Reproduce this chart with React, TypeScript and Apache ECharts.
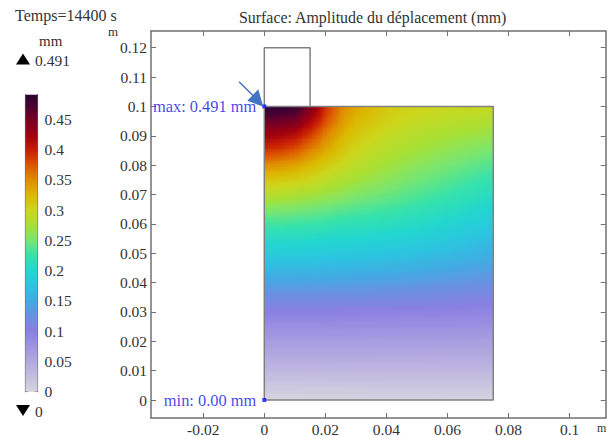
import React, { useEffect, useRef } from "react";
import * as echarts from "echarts";

const FONT = "'Liberation Serif', serif";
const TEXT = "#333333";
const BLUE = "#1212e6";

const xTicks = [-0.02, 0, 0.02, 0.04, 0.06, 0.08, 0.1];
const yTicks = [0, 0.01, 0.02, 0.03, 0.04, 0.05, 0.06, 0.07, 0.08, 0.09, 0.1, 0.11, 0.12];
const barTicks = [0, 0.05, 0.1, 0.15, 0.2, 0.25, 0.3, 0.35, 0.4, 0.45];

const colorStops: [number, string][] = [
  [0, "#d6d4df"], [0.05, "#b2a8df"], [0.1, "#8a80e2"], [0.125, "#6a90e2"], [0.15, "#41abe2"],
  [0.175, "#2cc4e0"], [0.2, "#22d6d0"], [0.225, "#36e2ac"], [0.25, "#78e672"], [0.275, "#a8e034"],
  [0.3, "#cdd61c"], [0.325, "#dcb800"], [0.35, "#e08c00"], [0.375, "#dc5400"], [0.4, "#c81c04"],
  [0.425, "#a00010"], [0.45, "#780024"], [0.47, "#4e0030"], [0.491, "#280030"],
];

const fieldX = [0, 0.005, 0.01, 0.015, 0.02, 0.025, 0.03, 0.04, 0.05, 0.06, 0.075];
const fieldY = [0.1, 0.095, 0.09, 0.085, 0.08, 0.075, 0.07, 0.065, 0.06, 0.055, 0.05, 0.045, 0.04, 0.035, 0.03, 0.025, 0.02, 0.015, 0.01, 0.005, 0];
const fieldValues = [
  [0.491, 0.49, 0.485, 0.45, 0.395, 0.355, 0.335, 0.31, 0.302, 0.298, 0.295],
  [0.458, 0.456, 0.45, 0.42, 0.38, 0.345, 0.325, 0.305, 0.293, 0.287, 0.28],
  [0.425, 0.42, 0.41, 0.385, 0.355, 0.33, 0.312, 0.293, 0.282, 0.274, 0.265],
  [0.39, 0.385, 0.375, 0.355, 0.335, 0.315, 0.3, 0.283, 0.272, 0.262, 0.25],
  [0.35, 0.345, 0.338, 0.325, 0.31, 0.298, 0.287, 0.272, 0.26, 0.25, 0.235],
  [0.315, 0.312, 0.307, 0.3, 0.29, 0.28, 0.273, 0.26, 0.248, 0.238, 0.222],
  [0.285, 0.283, 0.279, 0.274, 0.268, 0.262, 0.255, 0.246, 0.236, 0.226, 0.21],
  [0.255, 0.254, 0.252, 0.248, 0.245, 0.24, 0.236, 0.23, 0.222, 0.213, 0.197],
  [0.23, 0.23, 0.228, 0.226, 0.224, 0.22, 0.218, 0.213, 0.207, 0.198, 0.183],
  [0.208, 0.208, 0.207, 0.205, 0.203, 0.201, 0.2, 0.196, 0.19, 0.183, 0.17],
  [0.187, 0.187, 0.186, 0.185, 0.184, 0.182, 0.18, 0.177, 0.172, 0.166, 0.155],
  [0.165, 0.165, 0.165, 0.164, 0.163, 0.162, 0.16, 0.158, 0.154, 0.149, 0.14],
  [0.143, 0.143, 0.143, 0.142, 0.142, 0.141, 0.14, 0.138, 0.135, 0.131, 0.125],
  [0.12, 0.12, 0.12, 0.12, 0.12, 0.119, 0.119, 0.117, 0.115, 0.112, 0.108],
  [0.099, 0.099, 0.099, 0.099, 0.099, 0.098, 0.098, 0.097, 0.096, 0.095, 0.092],
  [0.082, 0.082, 0.082, 0.082, 0.082, 0.081, 0.081, 0.081, 0.08, 0.08, 0.078],
  [0.065, 0.065, 0.065, 0.065, 0.065, 0.065, 0.065, 0.064, 0.064, 0.063, 0.062],
  [0.049, 0.049, 0.049, 0.049, 0.049, 0.049, 0.049, 0.049, 0.049, 0.048, 0.048],
  [0.032, 0.032, 0.032, 0.032, 0.032, 0.033, 0.033, 0.033, 0.033, 0.033, 0.033],
  [0.015, 0.015, 0.015, 0.016, 0.016, 0.016, 0.016, 0.017, 0.017, 0.017, 0.017],
  [0, 0, 0, 0, 0, 0, 0.001, 0.001, 0.001, 0.002, 0.002],
];

const domainOutline = [[0, 0], [0.075, 0], [0.075, 0.1], [0, 0.1], [0, 0]];
const blockOutline = [[0, 0.1], [0, 0.12], [0.015, 0.12], [0.015, 0.1]];
const maxPoint = [0, 0.1];
const minPoint = [0, 0];
const maxValue = 0.491;

function hex(c: string) {
  return [parseInt(c.slice(1, 3), 16), parseInt(c.slice(3, 5), 16), parseInt(c.slice(5, 7), 16)];
}
const stopRgb = colorStops.map(([v, c]) => [v, hex(c)] as [number, number[]]);
function colorOf(v: number) {
  for (let i = 1; i < stopRgb.length; i++) {
    if (v <= stopRgb[i][0]) {
      const [a, ca] = stopRgb[i - 1];
      const [b, cb] = stopRgb[i];
      const t = Math.max(0, (v - a) / (b - a));
      const m = ca.map((q, k) => Math.round(q + (cb[k] - q) * t));
      return `rgb(${m[0]},${m[1]},${m[2]})`;
    }
  }
  return colorStops[colorStops.length - 1][1];
}

const cells: number[][] = [];
for (let r = 0; r < fieldY.length - 1; r++) {
  for (let c = 0; c < fieldX.length - 1; c++) {
    cells.push([
      fieldX[c], fieldY[r], fieldX[c + 1], fieldY[r + 1],
      fieldValues[r][c], fieldValues[r][c + 1], fieldValues[r + 1][c], fieldValues[r + 1][c + 1],
    ]);
  }
}

function renderCell(_: any, api: any) {
  const p0 = api.coord([api.value(0), api.value(1)]);
  const p1 = api.coord([api.value(2), api.value(3)]);
  const v00 = api.value(4), v10 = api.value(5), v01 = api.value(6), v11 = api.value(7);
  const nx = Math.max(1, Math.ceil((p1[0] - p0[0]) / 2));
  const ny = Math.max(1, Math.ceil((p1[1] - p0[1]) / 2));
  const children: any[] = [];
  for (let j = 0; j < ny; j++) {
    const y0 = Math.round(p0[1] + ((p1[1] - p0[1]) * j) / ny);
    const y1 = Math.round(p0[1] + ((p1[1] - p0[1]) * (j + 1)) / ny);
    const ty = (j + 0.5) / ny;
    for (let i = 0; i < nx; i++) {
      const x0 = Math.round(p0[0] + ((p1[0] - p0[0]) * i) / nx);
      const x1 = Math.round(p0[0] + ((p1[0] - p0[0]) * (i + 1)) / nx);
      const tx = (i + 0.5) / nx;
      const v = (v00 * (1 - tx) + v10 * tx) * (1 - ty) + (v01 * (1 - tx) + v11 * tx) * ty;
      children.push({
        type: "rect",
        shape: { x: x0, y: y0, width: x1 - x0, height: y1 - y0 },
        style: { fill: colorOf(v) },
      });
    }
  }
  return { type: "group", silent: true, children };
}

function renderBar(_: any, api: any) {
  const a = api.coord([0, api.value(0)]);
  const b = api.coord([1, api.value(1)]);
  return {
    type: "rect",
    silent: true,
    shape: { x: a[0], y: b[1], width: b[0] - a[0], height: a[1] - b[1] },
    style: {
      fill: new echarts.graphic.LinearGradient(
        0, 1, 0, 0,
        colorStops.map(([v, c]) => ({ offset: v / maxValue, color: c })),
      ),
    },
  };
}

const axisLine = { show: true, onZero: false, lineStyle: { color: "#707070", width: 1.5 } };
const hiddenLabel = { show: false };

const option: any = {
  animation: false,
  backgroundColor: "#ffffff",
  textStyle: { fontFamily: FONT },
  grid: [
    { left: 151, top: 31, width: 454.7, height: 387, outerBoundsMode: "none" },
    { left: 25.5, top: 94.7, width: 12, height: 297, outerBoundsMode: "none" },
  ],
  xAxis: [
    {
      type: "value", gridIndex: 0, position: "bottom", min: -0.03711, max: 0.11182,
      splitLine: { show: false }, axisLine,
      axisTick: { inside: true, length: 5, customValues: xTicks, lineStyle: { color: "#707070" } },
      axisLabel: {
        customValues: xTicks, margin: 4, color: TEXT, fontFamily: FONT, fontSize: 15.5, lineHeight: 14,
        formatter: (v: number) => String(v),
      },
    },
    {
      type: "value", gridIndex: 0, position: "top", min: -0.03711, max: 0.11182,
      splitLine: { show: false }, axisLine,
      axisTick: { inside: true, length: 5, customValues: xTicks, lineStyle: { color: "#707070" } },
      axisLabel: hiddenLabel,
    },
    { type: "value", gridIndex: 1, min: 0, max: 1, show: false },
  ],
  yAxis: [
    {
      type: "value", gridIndex: 0, position: "left", min: -0.00613, max: 0.12568,
      splitLine: { show: false }, axisLine,
      axisTick: { inside: true, length: 5, customValues: yTicks, lineStyle: { color: "#707070" } },
      axisLabel: {
        customValues: yTicks, margin: 4, color: TEXT, fontFamily: FONT, fontSize: 15.5,
        formatter: (v: number) => String(v),
      },
    },
    {
      type: "value", gridIndex: 0, position: "right", min: -0.00613, max: 0.12568,
      splitLine: { show: false }, axisLine,
      axisTick: { inside: true, length: 5, customValues: yTicks, lineStyle: { color: "#707070" } },
      axisLabel: hiddenLabel,
    },
    {
      type: "value", gridIndex: 1, position: "right", min: 0, max: maxValue,
      splitLine: { show: false },
      axisLine: { show: true, onZero: false, lineStyle: { color: "#707070", width: 1.2 } },
      axisTick: { inside: true, length: 3, customValues: barTicks, lineStyle: { color: "#333" } },
      axisLabel: {
        customValues: barTicks, margin: 7, color: TEXT, fontFamily: FONT, fontSize: 15.5,
        formatter: (v: number) => String(v),
      },
    },
    {
      type: "value", gridIndex: 1, position: "left", min: 0, max: maxValue,
      splitLine: { show: false },
      axisLine: { show: true, onZero: false, lineStyle: { color: "#707070", width: 1.2 } },
      axisTick: { inside: true, length: 3, customValues: barTicks, lineStyle: { color: "#333" } },
      axisLabel: hiddenLabel,
    },
  ],
  series: [
    {
      type: "custom", xAxisIndex: 0, yAxisIndex: 0, clip: true, silent: true,
      renderItem: renderCell, data: cells, encode: { x: [0, 2], y: [1, 3] }, z: 1,
    },
    {
      type: "line", xAxisIndex: 0, yAxisIndex: 0, data: domainOutline, showSymbol: false, symbol: "none",
      lineStyle: { color: "#808080", width: 1.5 }, silent: true, z: 3,
    },
    {
      type: "line", xAxisIndex: 0, yAxisIndex: 0, data: blockOutline, showSymbol: false, symbol: "none",
      lineStyle: { color: "#808080", width: 1.5 }, silent: true, z: 3,
    },
    {
      type: "scatter", xAxisIndex: 0, yAxisIndex: 0, symbol: "rect", symbolSize: 4, silent: true, z: 5,
      itemStyle: { color: "#1414ff" },
      data: [
        { value: maxPoint, label: { formatter: "max: 0.491 mm" } },
        { value: minPoint, label: { formatter: "min: 0.00 mm" } },
      ],
      label: { show: true, position: "left", distance: 6, color: BLUE, fontFamily: FONT, fontSize: 16.4 },
    },
    {
      type: "custom", xAxisIndex: 2, yAxisIndex: 2, silent: true, renderItem: renderBar,
      data: [[0, maxValue]], encode: { y: [0, 1] }, z: 1,
    },
  ],
  graphic: [
    { type: "text", x: 239, y: 9, silent: true, style: { text: "Surface: Amplitude du déplacement (mm)", fontFamily: FONT, fontSize: 15.9, fill: TEXT } },
    { type: "text", x: 15, y: 7, silent: true, style: { text: "Temps=14400 s", fontFamily: FONT, fontSize: 16, fill: TEXT } },
    { type: "text", x: 39, y: 33, silent: true, style: { text: "mm", fontFamily: FONT, fontSize: 15, fill: TEXT } },
    { type: "text", x: 35, y: 52, silent: true, style: { text: "0.491", fontFamily: FONT, fontSize: 15.5, fill: TEXT } },
    { type: "text", x: 35, y: 403, silent: true, style: { text: "0", fontFamily: FONT, fontSize: 15.5, fill: TEXT } },
    { type: "polygon", silent: true, shape: { points: [[23, 53.5], [16, 64.5], [30, 64.5]] }, style: { fill: "#000" } },
    { type: "polygon", silent: true, shape: { points: [[16, 405], [30, 405], [23, 416]] }, style: { fill: "#000" } },
    { type: "text", x: 108, y: 25, silent: true, style: { text: "m", fontFamily: FONT, fontSize: 13, fill: TEXT } },
    { type: "text", x: 597, y: 422, silent: true, style: { text: "m", fontFamily: FONT, fontSize: 12, fill: TEXT } },
    { type: "line", silent: true, z: 10, shape: { x1: 239, y1: 81.7, x2: 253, y2: 95.5 }, style: { stroke: "#4472c4", lineWidth: 1.5 } },
    { type: "polygon", silent: true, z: 10, shape: { points: [[263.3, 106.7], [258.3, 89.3], [247.3, 100.7]] }, style: { fill: "#4472c4" } },
  ],
};

export default function App() {
  const ref = useRef<HTMLDivElement>(null);
  useEffect(() => {
    const chart = echarts.init(ref.current!, undefined, { renderer: "svg" });
    chart.setOption(option);
    return () => chart.dispose();
  }, []);
  return <div ref={ref} style={{ position: "fixed", left: 0, top: 0, width: 611, height: 436 }} />;
}
